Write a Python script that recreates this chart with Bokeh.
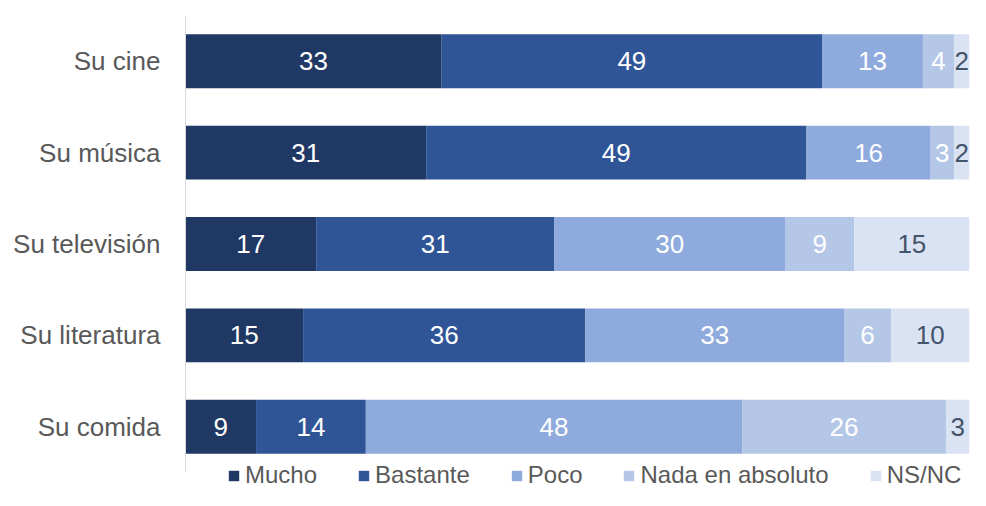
from bokeh.plotting import figure
from bokeh.models import ColumnDataSource, Range1d, Legend, LegendItem, FixedTicker
from bokeh.core.properties import value
from bokeh.embed import file_html
from bokeh.resources import INLINE

categories = ["Su cine", "Su música", "Su televisión", "Su literatura", "Su comida"]
series = ["Mucho", "Bastante", "Poco", "Nada en absoluto", "NS/NC"]
mucho = [33, 31, 17, 15, 9]
bastante = [49, 49, 31, 36, 14]
poco = [13, 16, 30, 33, 48]
nada = [4, 3, 9, 6, 26]
nsnc = [2, 2, 15, 10, 3]

colors = ["#203864", "#2F5597", "#8FAADC", "#B4C7E7", "#DAE3F3"]
label_colors = ["white", "white", "white", "white", "#44546A"]

values = [mucho, bastante, poco, nada, nsnc]
keys = ["s0", "s1", "s2", "s3", "s4"]
n = len(categories)
ypos = [n - 1 - i for i in range(n)]
totals = [sum(v[i] for v in values) for i in range(n)]

data = {"y": ypos}
for k, v in zip(keys, values):
    data[k] = [v[i] / totals[i] * 100 for i in range(n)]
src = ColumnDataSource(data)

FONT = "Liberation Sans"
W, H = 970, 490
TOP = 15
STEP = 91.4  # px per category
frame_h = H - TOP
y_top = n - 0.5
y_bottom = y_top - frame_h / STEP

p = figure(width=W, height=H, y_range=Range1d(y_bottom, y_top),
           x_range=Range1d(0, 100), x_axis_location=None, output_backend="svg",
           toolbar_location=None, min_border_top=TOP, min_border_left=185,
           min_border_right=1, min_border_bottom=0)
p.outline_line_color = None
p.xgrid.visible = False
p.ygrid.visible = False

renderers = p.hbar_stack(keys, y="y", height=0.59, color=colors, line_color=None, source=src)

for j, k in enumerate(keys):
    lefts = [sum(data[kk][i] for kk in keys[:j]) for i in range(n)]
    xs = [lefts[i] + data[k][i] / 2 for i in range(n)]
    lsrc = ColumnDataSource(dict(x=xs, y=ypos, t=[str(v) for v in values[j]]))
    p.text(x="x", y="y", text="t", source=lsrc, text_align="center", text_baseline="middle",
           text_font=value(FONT), text_font_size="26px", text_color=label_colors[j])

ax = p.yaxis[0]
ax.ticker = FixedTicker(ticks=ypos)
ax.major_label_overrides = {yy: c for yy, c in zip(ypos, categories)}
ax.bounds = (-0.5, n - 0.5)
ax.axis_line_color = "#D9D9D9"
ax.axis_line_width = 1
ax.major_tick_line_color = None
ax.minor_tick_line_color = None
ax.major_tick_out = 0
ax.major_tick_in = 0
ax.major_label_standoff = 25
ax.major_label_text_font = FONT
ax.major_label_text_font_size = "26px"
ax.major_label_text_color = "#595959"

items = [LegendItem(label=s, renderers=[r]) for s, r in zip(series, renderers)]
legend = Legend(items=items, orientation="horizontal", location=(42, 1),
                label_text_font=FONT, label_text_font_size="24px", label_text_color="#595959",
                glyph_width=13, glyph_height=13, label_standoff=5, spacing=40,
                padding=0, margin=0, border_line_color=None, background_fill_alpha=0,
                label_height=24)
p.add_layout(legend, "center")

open("out.html", "w").write(file_html(p, INLINE))
